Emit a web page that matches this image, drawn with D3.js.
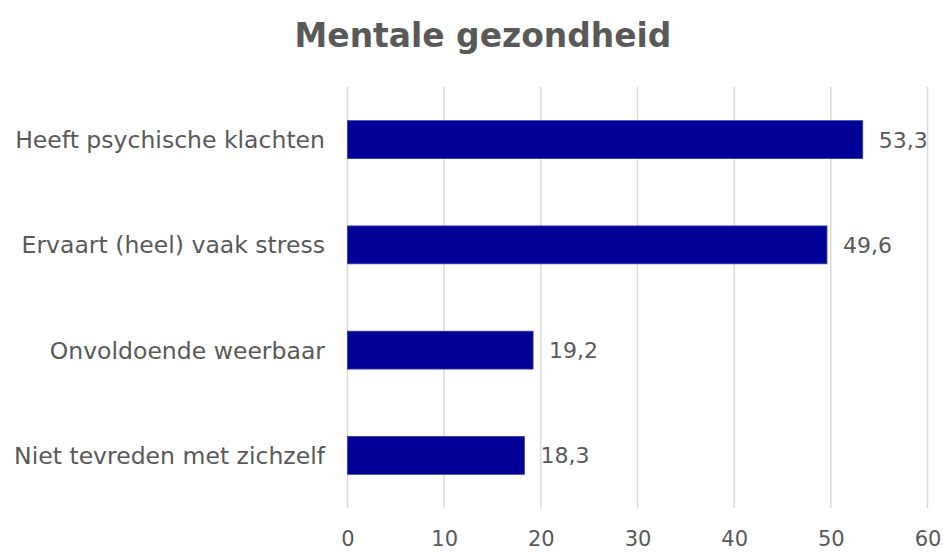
<!DOCTYPE html>
<html><head><meta charset="utf-8">
<script src="https://cdn.jsdelivr.net/npm/d3@7"></script>
<style>body{margin:0;background:#fff}svg{display:block}</style>
</head><body>
<svg id="c" width="943" height="552"></svg>
<script>
const title = "Mentale gezondheid";
const categories = ["Heeft psychische klachten","Ervaart (heel) vaak stress","Onvoldoende weerbaar","Niet tevreden met zichzelf"];
const values = [53.3, 49.6, 19.2, 18.3];
const valueLabels = ["53,3","49,6","19,2","18,3"];
const ticks = [0,10,20,30,40,50,60];

const svg = d3.select("#c");
const font = "'Century Gothic','URW Gothic','DejaVu Sans',sans-serif";
const grey = "#595959";
const x = d3.scaleLinear().domain([0,60]).range([347.5,927.5]);
const y = d3.scaleBand().domain(categories).range([87,508]).paddingInner(0.64).paddingOuter(0.32);

function fit(sel, target, base) {
  const w = sel.node().getComputedTextLength();
  return base * target / w;
}

const t = svg.append("text").attr("x",483).attr("y",47).attr("text-anchor","middle")
  .attr("font-family",font).attr("font-weight","bold").attr("font-size",32).attr("fill",grey).text(title);
t.attr("font-size", fit(t, 377, 32));

const g = svg.append("g");
g.selectAll("line.grid").data(ticks).join("line").attr("class","grid")
  .attr("x1",d=>x(d)).attr("x2",d=>x(d)).attr("y1",87).attr("y2",508)
  .attr("stroke","#d9d9d9").attr("stroke-width",1.5);

const xAxis = d3.axisBottom(x).tickValues(ticks).tickSize(0).tickPadding(0);
const ax = svg.append("g").attr("transform","translate(0,546)").call(xAxis);
ax.select(".domain").remove();
ax.selectAll("text").attr("font-family",font).attr("font-size",21).attr("fill",grey).attr("dy","0");

g.selectAll("rect.bar").data(values).join("rect").attr("class","bar")
  .attr("x",x(0)).attr("y",(d,i)=>y(categories[i]))
  .attr("width",d=>x(d)-x(0)).attr("height",y.bandwidth())
  .attr("fill","#000096").attr("stroke","#3a3ab0").attr("stroke-width",0.8);

g.selectAll("text.val").data(values).join("text").attr("class","val")
  .attr("x",d=>x(d)+16).attr("y",(d,i)=>y(categories[i])+y.bandwidth()/2)
  .attr("dy","0.36em").attr("font-family",font).attr("font-size",22).attr("fill",grey)
  .text((d,i)=>valueLabels[i]);

const cats = g.selectAll("text.cat").data(categories).join("text").attr("class","cat")
  .attr("x",325).attr("y",d=>y(d)+y.bandwidth()/2).attr("dy","0.36em")
  .attr("text-anchor","end").attr("font-family",font).attr("font-size",20).attr("fill",grey)
  .text(d=>d);
const first = cats.filter((d,i)=>i===0);
cats.attr("font-size", fit(first, 310, 20));
</script>
</body></html>
